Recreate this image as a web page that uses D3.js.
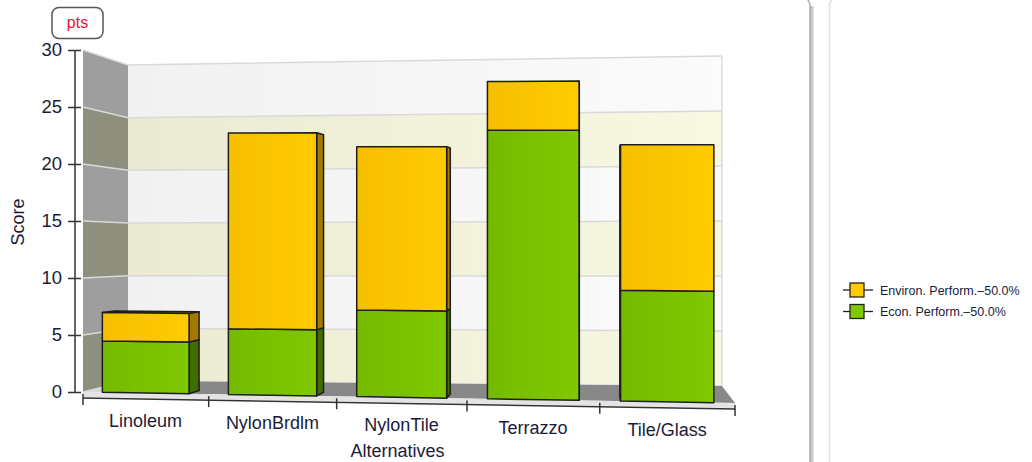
<!DOCTYPE html>
<html>
<head>
<meta charset="utf-8">
<script src="https://cdn.jsdelivr.net/npm/d3@7"></script>
<style>
  html, body { margin: 0; padding: 0; background: #fff; }
  svg { display: block; font-family: "Liberation Sans", Arial, sans-serif; }
</style>
</head>
<body>
<svg id="chart" width="1032" height="462"></svg>
<script>
// ---- data ----
const categories = ["Linoleum", "NylonBrdlm", "NylonTile", "Terrazzo", "Tile/Glass"];
const econValues = [4.5, 5.7, 7.45, 22.9, 9.35];
const envValues  = [2.5, 17.0, 14.05, 4.15, 12.3];
const seriesNames = ["Environ. Perform.\u201350.0%", "Econ. Perform.\u201350.0%"];
const yTicks = [0, 5, 10, 15, 20, 25, 30];
const unitLabel = "pts";
const yTitle = "Score";
const xTitle = "Alternatives";

const colors = {
  env:  { front0: "#f6bf00", front1: "#ffcb00", side: "#a27a00", top: "#c99a00" },
  econ: { front0: "#74bb00", front1: "#80c800", side: "#3f6d00", top: "#5a9400" }
};

const svg = d3.select("#chart");
const defs = svg.append("defs");

// ---- panels ----
const shadow = defs.append("linearGradient").attr("id", "panelShadow")
  .attr("x1", 0).attr("x2", 1).attr("y1", 0).attr("y2", 0);
shadow.append("stop").attr("offset", 0).attr("stop-color", "#a8a8a8");
shadow.append("stop").attr("offset", 1).attr("stop-color", "#e4e4e4");
svg.append("rect").attr("x", 809).attr("y", 6).attr("width", 5).attr("height", 460)
  .attr("fill", "url(#panelShadow)");
svg.append("rect").attr("x", -12).attr("y", -4).attr("width", 822).attr("height", 480)
  .attr("rx", 10).attr("fill", "#fff").attr("stroke", "#b0b0b0").attr("stroke-width", 1.5);
svg.append("rect").attr("x", 829.5).attr("y", -4).attr("width", 260).attr("height", 480)
  .attr("rx", 10).attr("fill", "#fff").attr("stroke", "#e0e0e0").attr("stroke-width", 1.5);

// ---- scales ----
const xBand = d3.scaleBand().domain(categories).range([0, 1])
  .paddingInner(0.31).paddingOuter(0.155);
const vScale = d3.scaleLinear().domain([0, 30]).range([0, 1]);
const yAxisScale = d3.scaleLinear().domain([0, 30]).range([392, 50]);

// perspective: unit square (u along categories, v along value) -> screen quad
function squareToQuad(p00, p10, p11, p01) {
  const [x0, y0] = p00, [x1, y1] = p10, [x2, y2] = p11, [x3, y3] = p01;
  const dx1 = x1 - x2, dx2 = x3 - x2, dx3 = x0 - x1 + x2 - x3;
  const dy1 = y1 - y2, dy2 = y3 - y2, dy3 = y0 - y1 + y2 - y3;
  const den = dx1 * dy2 - dx2 * dy1;
  const g = (dx3 * dy2 - dx2 * dy3) / den, h = (dx1 * dy3 - dx3 * dy1) / den;
  const a = x1 - x0 + g * x1, b = x3 - x0 + h * x3, c = x0;
  const d = y1 - y0 + g * y1, e = y3 - y0 + h * y3, f = y0;
  return (u, v) => { const w = g * u + h * v + 1; return [(a * u + b * v + c) / w, (d * u + e * v + f) / w]; };
}
const frontPlane = squareToQuad([83, 392], [735, 403], [735, 45], [83, 50]);
const backPlane  = squareToQuad([128, 381], [722, 386], [722, 56], [128, 65]);
function P(u, val, w) {
  const v = vScale(val);
  const F = frontPlane(u, v), B = backPlane(u, v);
  return [F[0] + (B[0] - F[0]) * w, F[1] + (B[1] - F[1]) * w];
}
const poly = pts => pts.map(p => p[0].toFixed(2) + "," + p[1].toFixed(2)).join(" ");

// ---- back wall ----
function hGrad(id, c0, c1, x0, x1) {
  const g = defs.append("linearGradient").attr("id", id).attr("gradientUnits", "userSpaceOnUse")
    .attr("x1", x0).attr("x2", x1).attr("y1", 0).attr("y2", 0);
  g.append("stop").attr("offset", 0).attr("stop-color", c0);
  g.append("stop").attr("offset", 1).attr("stop-color", c1);
}
hGrad("wallWhite", "#f1f1f1", "#fbfbfb", 128, 722);
hGrad("wallCream", "#ebead1", "#f8f8e3", 128, 722);
hGrad("floorGrad", "#dcdcdc", "#888888", 90, 200);

const bands = d3.range(0, 30, 5);
const walls = svg.append("g");
bands.forEach((v0, k) => {
  const v1 = v0 + 5, cream = k % 2 === 0;
  walls.append("polygon")
    .attr("points", poly([P(0, v0, 1), P(1, v0, 1), P(1, v1, 1), P(0, v1, 1)]))
    .attr("fill", cream ? "url(#wallCream)" : "url(#wallWhite)");
  walls.append("polygon")
    .attr("points", poly([P(0, v0, 0), P(0, v0, 1), P(0, v1, 1), P(0, v1, 0)]))
    .attr("fill", cream ? "#8f8f7e" : "#9e9e9e");
});
yTicks.forEach(t => {
  walls.append("polyline").attr("points", poly([P(0, t, 0), P(0, t, 1), P(1, t, 1)]))
    .attr("fill", "none").attr("stroke", "#d9d9d9").attr("stroke-width", 1.5);
});
walls.append("polyline").attr("points", poly([P(1, 0, 1), P(1, 30, 1)]))
  .attr("fill", "none").attr("stroke", "#dcdcdc").attr("stroke-width", 1.5);

// ---- floor ----
walls.append("polygon")
  .attr("points", poly([P(0, 0, 0), P(1, 0, 0), P(1, 0, 1), P(0, 0, 1)]))
  .attr("fill", "url(#floorGrad)");
const fl = P(0, 0, 0), fr = P(1, 0, 0);
walls.append("polygon")
  .attr("points", poly([fl, fr, [fr[0], fr[1] + 5], [fl[0], fl[1] + 5]]))
  .attr("fill", "#e4e4e4");

// ---- bars ----
const depth = 0.28;
const stackData = categories.map((c, i) => ({
  cat: c,
  segs: [
    { key: "econ", v0: 0, v1: econValues[i] },
    { key: "env", v0: econValues[i], v1: econValues[i] + envValues[i] }
  ]
}));
["env", "econ"].forEach(k => {
  const g = defs.append("linearGradient").attr("id", "front-" + k)
    .attr("x1", 0).attr("x2", 1).attr("y1", 0).attr("y2", 0);
  g.append("stop").attr("offset", 0).attr("stop-color", colors[k].front0);
  g.append("stop").attr("offset", 1).attr("stop-color", colors[k].front1);
});

const barLayer = svg.append("g")
  .attr("stroke", "#1e1e1e").attr("stroke-width", 1.5).attr("stroke-linejoin", "round");
stackData.forEach(d => {
  const u0 = xBand(d.cat), u1 = u0 + xBand.bandwidth();
  d.segs.forEach((s, si) => {
    const c = colors[s.key];
    const g = barLayer.append("g");
    const fr0 = P(u1, s.v0, 0), br0 = P(u1, s.v0, depth);
    if (br0[0] > fr0[0] + 0.3) {
      g.append("polygon").attr("points",
        poly([P(u1, s.v0, 0), P(u1, s.v0, depth), P(u1, s.v1, depth), P(u1, s.v1, 0)]))
        .attr("fill", c.side);
    }
    const fl0 = P(u0, s.v0, 0), bl0 = P(u0, s.v0, depth);
    if (bl0[0] < fl0[0] - 0.3) {
      g.append("polygon").attr("points",
        poly([P(u0, s.v0, 0), P(u0, s.v0, depth), P(u0, s.v1, depth), P(u0, s.v1, 0)]))
        .attr("fill", c.side);
    }
    if (si === d.segs.length - 1) {
      const ft = P(u0, s.v1, 0), bt = P(u0, s.v1, depth);
      if (bt[1] < ft[1] - 0.3) {
        g.append("polygon").attr("points",
          poly([P(u0, s.v1, 0), P(u1, s.v1, 0), P(u1, s.v1, depth), P(u0, s.v1, depth)]))
          .attr("fill", c.top);
      }
    }
    g.append("polygon").attr("points",
      poly([P(u0, s.v0, 0), P(u1, s.v0, 0), P(u1, s.v1, 0), P(u0, s.v1, 0)]))
      .attr("fill", "url(#front-" + s.key + ")");
  });
});

// ---- y axis ----
const textColor = "#1b1b38";
const yAxis = d3.axisLeft(yAxisScale).tickValues(yTicks).tickSizeInner(7).tickSizeOuter(0).tickPadding(6);
const yg = svg.append("g").attr("transform", "translate(75,0)").call(yAxis);
yg.select(".domain").attr("stroke", "#333").attr("stroke-width", 1.5).attr("d", "M0,50V393");
yg.selectAll(".tick line").attr("x1", -7).attr("x2", 6).attr("stroke", "#333").attr("stroke-width", 1.5);
yg.selectAll(".tick text").attr("fill", textColor).style("font-size", "18.5px")
  .style("font-family", "'Liberation Sans', Arial, sans-serif");

svg.append("text").attr("transform", "translate(24,222) rotate(-90)")
  .attr("text-anchor", "middle").attr("fill", textColor).style("font-size", "18px").text(yTitle);

// ---- x axis ----
const axisOff = 6;
const xa = svg.append("g").attr("stroke", "#333").attr("stroke-width", 1.5);
const a0 = P(0, 0, 0), a1 = P(1, 0, 0);
xa.append("line").attr("x1", a0[0]).attr("y1", a0[1] + axisOff).attr("x2", a1[0]).attr("y2", a1[1] + axisOff);
const boundaries = categories.map(c => xBand(c) - xBand.step() * xBand.paddingOuter()).concat([1]);
boundaries.forEach(u => {
  const p = P(u, 0, 0);
  xa.append("line").attr("x1", p[0]).attr("x2", p[0])
    .attr("y1", p[1] + axisOff - 4).attr("y2", p[1] + axisOff + 7);
});
categories.forEach(c => {
  const u = xBand(c) + xBand.bandwidth() / 2;
  const p = P(u, 0, 0);
  svg.append("text").attr("x", p[0]).attr("y", p[1] + axisOff + 28)
    .attr("text-anchor", "middle").attr("fill", textColor).style("font-size", "18px").text(c);
});
const mid = P(0.5, 0, 0);
svg.append("text").attr("x", mid[0] - 4).attr("y", 457)
  .attr("text-anchor", "middle").attr("fill", textColor).style("font-size", "18px").text(xTitle);

// ---- unit badge ----
svg.append("rect").attr("x", 52).attr("y", 7.5).attr("width", 51).attr("height", 31).attr("rx", 7)
  .attr("fill", "#fff").attr("stroke", "#555").attr("stroke-width", 1.5);
svg.append("text").attr("x", 77.5).attr("y", 28).attr("text-anchor", "middle")
  .attr("fill", "#ee1133").style("font-size", "16px").text(unitLabel);

// ---- legend ----
const legendKeys = ["env", "econ"];
const legend = svg.append("g");
seriesNames.forEach((name, i) => {
  const cy = 290 + i * 21.5;
  const k = legendKeys[i];
  legend.append("line").attr("x1", 843).attr("x2", 873).attr("y1", cy).attr("y2", cy)
    .attr("stroke", "#222").attr("stroke-width", 1.3);
  legend.append("rect").attr("x", 850).attr("y", cy - 7).attr("width", 14).attr("height", 14)
    .attr("fill", colors[k].front1).attr("stroke", "#222").attr("stroke-width", 1.3);
  legend.append("text").attr("x", 880).attr("y", cy + 4.5).attr("fill", textColor)
    .style("font-size", "12.5px").text(name);
});
</script>
</body>
</html>
